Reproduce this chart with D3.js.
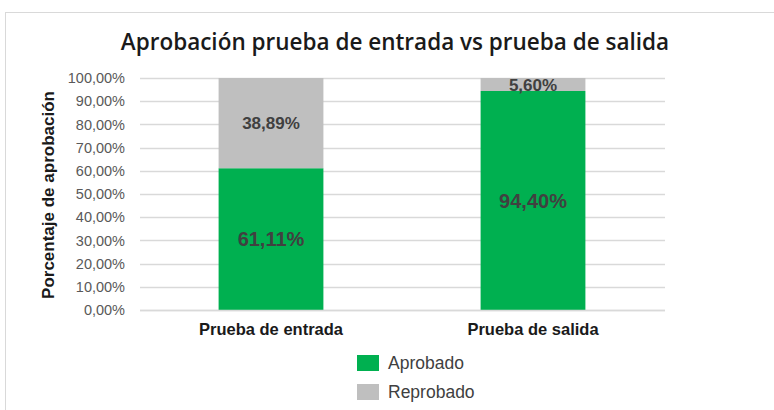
<!DOCTYPE html>
<html><head><meta charset="utf-8">
<script src="https://cdn.jsdelivr.net/npm/d3@7"></script>
<style>body{margin:0;background:#fff}svg{display:block}</style>
</head><body>
<script>
const categories = ["Prueba de entrada", "Prueba de salida"];
const seriesNames = ["Aprobado", "Reprobado"];
const aprobado = [61.11, 94.40];
const reprobado = [38.89, 5.60];
const yTicks = [0,10,20,30,40,50,60,70,80,90,100];
const colors = ["#00B050", "#BFBFBF"];

const W = 774, H = 410;
const svg = d3.select("body").append("svg").attr("width", W).attr("height", H);
svg.append("rect").attr("x",5.5).attr("y",12.5).attr("width",W+20).attr("height",H+20)
  .attr("fill","#fff").attr("stroke","#D9D9D9");

const x = d3.scaleBand().domain(categories).range([140, 664]).paddingInner(0.6).paddingOuter(0.3);
const y = d3.scaleLinear().domain([0, 100]).range([310, 78]);
const fmt = v => v.toFixed(2).replace(".", ",") + "%";

// gridlines
svg.append("g").selectAll("line").data(yTicks).join("line")
  .attr("x1",140).attr("x2",665).attr("y1",d=>Math.round(y(d))+0.5).attr("y2",d=>Math.round(y(d))+0.5)
  .attr("stroke","#D9D9D9").attr("stroke-width",1.3);

// y axis labels
const yAxis = d3.axisLeft(y).tickValues(yTicks).tickSize(0).tickPadding(0).tickFormat(fmt);
const ga = svg.append("g").attr("transform","translate(125,0)").call(yAxis);
ga.select(".domain").remove();
ga.selectAll("text").attr("font-family","Liberation Sans, Arial, sans-serif").attr("font-size",14.5).attr("fill","#595959");

// stacked data
const rows = categories.map((c,i)=>({cat:c, Aprobado:aprobado[i], Reprobado:reprobado[i]}));
const stack = d3.stack().keys(seriesNames)(rows);
const g = svg.append("g");
stack.forEach((s,si)=>{
  g.selectAll(null).data(s).join("rect")
    .attr("x",d=>x(d.data.cat)).attr("width",x.bandwidth())
    .attr("y",d=>y(d[1])).attr("height",d=>y(d[0])-y(d[1]))
    .attr("fill",colors[si]);
});
// labels
stack.forEach((s,si)=>{
  g.selectAll(null).data(s).join("text")
    .attr("x",d=>x(d.data.cat)+x.bandwidth()/2)
    .attr("y",d=>(y(d[0])+y(d[1]))/2)
    .attr("dy","0.36em").attr("text-anchor","middle")
    .attr("font-family","Liberation Sans, Arial, sans-serif").attr("font-weight","bold")
    .attr("font-size",si===0?20:17).attr("fill","#404040")
    .text(d=>fmt(d[1]-d[0]));
});

// x axis
const xAxis = d3.axisBottom(x).tickSize(0).tickPadding(0);
const gx = svg.append("g").attr("transform","translate(0,310)").call(xAxis);
gx.select(".domain").remove();
svg.append("line").attr("x1",140).attr("x2",665).attr("y1",310.5).attr("y2",310.5).attr("stroke","#D9D9D9").attr("stroke-width",1.3);
gx.selectAll("text").attr("y",19).attr("dy","0.36em").attr("font-family","Liberation Sans, Arial, sans-serif")
  .attr("font-weight","bold").attr("font-size",16.5).attr("fill","#1a1a1a");

// y title
svg.append("text").attr("transform","translate(54,195) rotate(-90)").attr("text-anchor","middle")
  .attr("font-family","Liberation Sans, Arial, sans-serif").attr("font-weight","bold").attr("font-size",17)
  .attr("fill","#1a1a1a").text("Porcentaje de aprobación");

// title
svg.append("text").attr("x",395).attr("y",50).attr("text-anchor","middle")
  .attr("font-family","Open Sans, sans-serif").attr("font-weight","600").attr("font-size",22.5)
  .attr("fill","#1a1a1a").text("Aprobación prueba de entrada vs prueba de salida");

// legend
const lg = svg.append("g");
seriesNames.forEach((n,i)=>{
  lg.append("rect").attr("x",357).attr("y",355+i*29).attr("width",22).attr("height",16).attr("fill",colors[i]);
  lg.append("text").attr("x",388).attr("y",363+i*29).attr("dy","0.36em")
    .attr("font-family","Liberation Sans, Arial, sans-serif").attr("font-size",17.5).attr("fill","#404040").text(n);
});
</script>
</body></html>
